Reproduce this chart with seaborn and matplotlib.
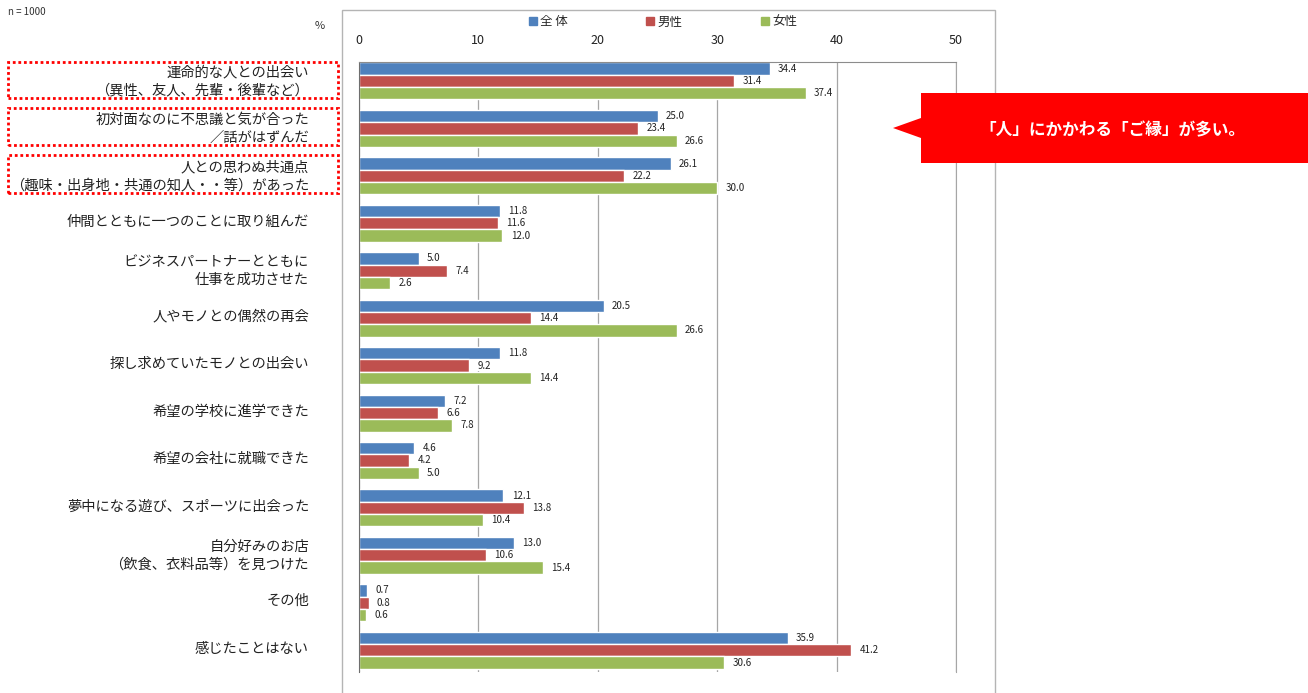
import matplotlib
matplotlib.use("Agg")
import matplotlib.pyplot as plt
import matplotlib.transforms as mtransforms
import seaborn as sns
import pandas as pd
from matplotlib.patches import Rectangle, Polygon

items = [
    "運命的な人との出会い\n（異性、友人、先輩・後輩など）",
    "初対面なのに不思議と気が合った\n／話がはずんだ",
    "人との思わぬ共通点\n（趣味・出身地・共通の知人・・等）があった",
    "仲間とともに一つのことに取り組んだ",
    "ビジネスパートナーとともに\n仕事を成功させた",
    "人やモノとの偶然の再会",
    "探し求めていたモノとの出会い",
    "希望の学校に進学できた",
    "希望の会社に就職できた",
    "夢中になる遊び、スポーツに出会った",
    "自分好みのお店\n（飲食、衣料品等）を見つけた",
    "その他",
    "感じたことはない",
]
groups = ["全 体", "男性", "女性"]
total = [34.4, 25.0, 26.1, 11.8, 5.0, 20.5, 11.8, 7.2, 4.6, 12.1, 13.0, 0.7, 35.9]
male = [31.4, 23.4, 22.2, 11.6, 7.4, 14.4, 9.2, 6.6, 4.2, 13.8, 10.6, 0.8, 41.2]
female = [37.4, 26.6, 30.0, 12.0, 2.6, 26.6, 14.4, 7.8, 5.0, 10.4, 15.4, 0.6, 30.6]
colors = ["#4F81BD", "#C0504D", "#9BBB59"]

df = pd.DataFrame({
    "item": items * 3,
    "group": [g for g in groups for _ in items],
    "value": total + male + female,
})

sns.set_style("white")
plt.rcParams["font.family"] = ["Noto Sans CJK JP", "DejaVu Sans"]

W, H = 1308, 693
fig = plt.figure(figsize=(W / 100, H / 100), dpi=100)
ax = fig.add_axes([359 / W, 1 - 672 / H, (956 - 359) / W, (672 - 62) / H])

sns.barplot(data=df, x="value", y="item", hue="group", orient="h",
            palette=colors, width=0.78, saturation=1, ax=ax, legend=False)

for cont in ax.containers:
    ax.bar_label(cont, fmt="%.1f", padding=6, fontsize=7, color="#222222",
                 bbox=dict(facecolor="white", edgecolor="none", pad=0.5))

ax.set_xlim(0, 50)
ax.set_ylim(12.46, -0.4)
ax.set_xticks(range(0, 51, 10))
ax.xaxis.tick_top()
ax.tick_params(axis="x", length=0, pad=11, labelsize=9, labelcolor="#222222")
ax.tick_params(axis="y", length=0, pad=36, labelsize=10.3, labelcolor="#222222")
# nudge category labels up a little so they sit inside the dotted boxes
shift = mtransforms.ScaledTranslation(0, 3 / 100, fig.dpi_scale_trans)
for t in ax.get_yticklabels():
    t.set_linespacing(1.35)
    t.set_transform(t.get_transform() + shift)
ax.set_xlabel("")
ax.set_ylabel("")
ax.grid(axis="x", color="#a6a6a6", lw=0.9)
ax.set_axisbelow(True)
ax.spines["bottom"].set_visible(False)
ax.spines["right"].set_color("#a6a6a6")
ax.spines["top"].set_color("#8c8c8c")
ax.spines["left"].set_color("#6e6e6e")

# legend
handles = [Rectangle((0, 0), 1, 1, color=c) for c in colors]
fig.legend(handles, groups, loc="center", bbox_to_anchor=(663 / W, 1 - 22 / H),
           ncol=3, frameon=False, fontsize=9, columnspacing=6.3,
           handlelength=0.65, handleheight=0.65, handletextpad=0.25)

# outer chart frame
fig.add_artist(Rectangle((342 / W, -0.01), (995 - 342) / W, 1 - 10 / H + 0.01,
                         transform=fig.transFigure, fill=False,
                         ec="#b4b4b4", lw=1))

fig.text(8 / W, 1 - 12 / H, "n = 1000", fontsize=7, va="center", color="#333333")
fig.text(320 / W, 1 - 26 / H, "%", fontsize=8, va="center", ha="center", color="#333333")

# dotted boxes around the first three labels
for y1, y2 in [(62, 98), (108, 145), (155, 193)]:
    fig.add_artist(Rectangle((8 / W, 1 - y2 / H), (338 - 8) / W, (y2 - y1) / H,
                             transform=fig.transFigure, fill=False,
                             ec="#ff0000", lw=2, ls=(0, (1, 1))))

# callout
pts = [(921, 93), (1308, 93), (1308, 163), (921, 163), (921, 138), (893, 128), (921, 118)]
fig.add_artist(Polygon([(x / W, 1 - y / H) for x, y in pts], closed=True,
                       transform=fig.transFigure, fc="#ff0000", ec="none"))
fig.text(1112 / W, 1 - 130 / H, "「人」にかかわる「ご縁」が多い。", fontsize=12,
         fontweight="bold", color="white", ha="center", va="center")

fig.savefig("out.png", dpi=100)
